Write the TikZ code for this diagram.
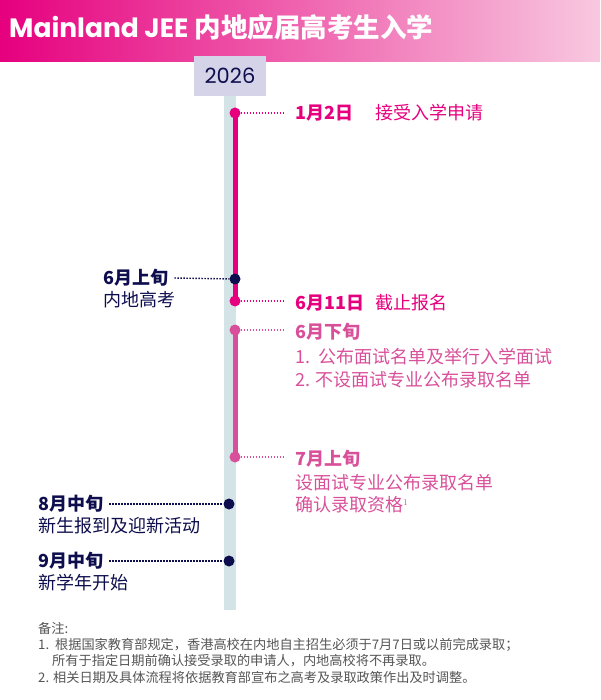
\documentclass[tikz,border=0pt]{standalone}
\usepackage{fontspec}
\setmainfont{Noto Sans CJK SC}
\newfontfamily\pop{Poppins}
\usetikzlibrary{shadings}
\definecolor{mag}{HTML}{E6007E}
\definecolor{lmag}{HTML}{F8C8E0}
\definecolor{pk}{HTML}{D9509A}
\definecolor{navy}{HTML}{0E0E4E}
\definecolor{track}{HTML}{D3E3E6}
\definecolor{yr}{HTML}{D5D3E8}
\definecolor{note}{HTML}{555555}
\begin{document}
\begin{tikzpicture}[x=1pt,y=-1pt,
  txt/.style={anchor=west,inner sep=0pt,font=\fontsize{18}{20}\selectfont},
  bd/.style={txt,font=\fontsize{18}{20}\selectfont\bfseries},
  dot/.style={circle,fill,inner sep=0pt,minimum size=11pt},
  con/.style={line width=1.4pt,dash pattern=on 1.4pt off 1.6pt},
  nt/.style={anchor=west,inner sep=0pt,text=note,font=\fontsize{13.2}{15}\selectfont}]
\useasboundingbox (0,0) rectangle (600,700);
\shade[left color=mag,right color=lmag] (0,0) rectangle (600,62);
\node[anchor=west,text=white,inner sep=0pt] (title) at (9,27) {\fontsize{26.5}{30}\selectfont\bfseries{\pop Mainland JEE} 内地应届高考生入学};
\fill[track] (224,62) rectangle (236,610);
\node[fill=yr,minimum width=72pt,minimum height=40pt,text=navy,inner sep=0pt] (year) at (230,76) {\pop\fontsize{21}{24}\selectfont 2026};
\draw[mag,line width=5pt] (235,113) -- (235,301);
\draw[pk,line width=5pt] (235,330) -- (235,457);
\node[dot,mag] (d1) at (235,113) {};
\node[dot,navy] (d2) at (235,279) {};
\node[dot,mag] (d3) at (235,301) {};
\node[dot,pk] (d4) at (235,330) {};
\node[dot,pk] (d5) at (235,457) {};
\node[dot,navy] (d6) at (229,504) {};
\node[dot,navy] (d7) at (229,561) {};
\node[bd,text=mag] (l1) at (295,113) {1月2日};
\node[txt,text=mag] (t1) at (375,113) {接受入学申请};
\node[bd,text=mag] (l3) at (295,303) {6月11日};
\node[txt,text=mag] (t3) at (375,303) {截止报名};
\node[bd,text=pk] (l4) at (295,332) {6月下旬};
\node[txt,text=pk] (t4a) at (295,357) {1.\ \ 公布面试名单及举行入学面试};
\node[txt,text=pk] (t4b) at (295,380) {2. 不设面试专业公布录取名单};
\node[bd,text=pk] (l5) at (295,459) {7月上旬};
\node[txt,text=pk] (t5a) at (295,483) {设面试专业公布录取名单};
\node[txt,text=pk] (t5b) at (295,505) {确认录取资格$^{\scriptscriptstyle 1}$};
\node[bd,text=navy] (l2) at (103,278) {6月上旬};
\node[txt,text=navy] (t2) at (103,300) {内地高考};
\node[bd,text=navy] (l6) at (38,504) {8月中旬};
\node[txt,text=navy] (t6) at (38,526) {新生报到及迎新活动};
\node[bd,text=navy] (l7) at (38,561) {9月中旬};
\node[txt,text=navy] (t7) at (38,583) {新学年开始};
\draw[con,mag] (d1) -- ++(48,0) coordinate (c1);
\draw[con,mag] (d3) -- ++(48,0) coordinate (c3);
\draw[con,pk] (d4) -- ++(48,0) coordinate (c4);
\draw[con,pk] (d5) -- ++(48,0) coordinate (c5);
\draw[con,navy] (l2.east) ++(6,0) coordinate (c2) -- (d2);
\draw[con,navy] (l6.east) ++(6,0) coordinate (c6) -- (d6);
\draw[con,navy] (l7.east) ++(6,0) coordinate (c7) -- (d7);
\node[nt] (n0) at (38,628) {备注:};
\node[nt] (n1) at (38,645) {1.\ \ 根据国家教育部规定，香港高校在内地自主招生必须于7月7日或以前完成录取；};
\node[nt] (n2) at (52,661) {所有于指定日期前确认接受录取的申请人，内地高校将不再录取。};
\node[nt] (n3) at (38,677) {2. 相关日期及具体流程将依据教育部宣布之高考及录取政策作出及时调整。};
\end{tikzpicture}
\end{document}
